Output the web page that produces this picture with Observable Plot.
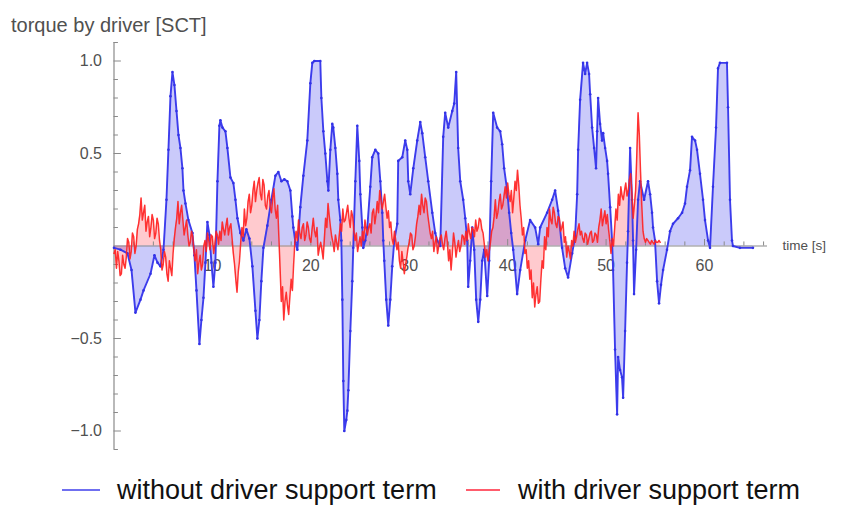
<!DOCTYPE html>
<html>
<head>
<meta charset="utf-8">
<script src="https://cdn.jsdelivr.net/npm/d3@7"></script>
<script src="https://cdn.jsdelivr.net/npm/@observablehq/plot@0.6"></script>
<style>
  body { margin: 0; background: #fff; font-family: "Liberation Sans", Arial, sans-serif; }
  #wrap { position: relative; width: 853px; height: 508px; overflow: hidden; }
  #chart { position: absolute; left: 0; top: 0; }
  .lg { position: absolute; top: 474px; height: 32px; line-height: 32px; font-size: 27px; color: #111; white-space: nowrap; }
  .sw { position: absolute; top: 489px; height: 2px; }
</style>
</head>
<body>
<div id="wrap">
  <div id="chart"></div>
  <div class="sw" style="left:62px;width:38px;background:#6f6ff0"></div>
  <div class="lg" style="left:117px">without driver support term</div>
  <div class="sw" style="left:466px;width:34px;background:#ff5c6c"></div>
  <div class="lg" style="left:518px">with driver support term</div>
</div>
<script>
// Driver torque without the support term: [time s, torque]
const withoutSupport = [
  [0,-0.01],[0.66,-0.02],[1.37,-0.04],[1.78,-0.13],[2.18,-0.36],[2.69,-0.29],[3.0,-0.24],[3.71,-0.15],
  [4.11,-0.05],[4.42,-0.09],[4.72,-0.11],[5.03,-0.02],[5.33,0.25],[5.53,0.52],[5.74,0.81],[5.94,0.94],
  [6.14,0.87],[6.35,0.73],[6.55,0.60],[6.75,0.53],[6.95,0.42],[7.06,0.30],[7.26,0.23],[7.56,0.14],
  [7.97,0.07],[8.17,-0.05],[8.38,-0.24],[8.68,-0.53],[8.88,-0.40],[9.09,-0.28],[9.29,-0.09],[9.49,0.13],
  [9.70,0.06],[9.90,-0.09],[10.10,-0.22],[10.30,-0.09],[10.51,0.35],[10.71,0.65],[10.81,0.68],[11.02,0.64],
  [11.32,0.62],[11.52,0.53],[11.83,0.37],[12.13,0.34],[12.34,0.25],[12.54,0.15],[12.84,0.07],[13.15,0.03],
  [13.45,0.09],[13.76,0.04],[14.06,-0.11],[14.37,-0.35],[14.57,-0.50],[14.77,-0.40],[14.97,-0.19],[15.18,-0.01],
  [15.58,0.11],[15.99,0.25],[16.40,0.38],[16.70,0.40],[17.01,0.35],[17.31,0.36],[17.61,0.35],[17.92,0.30],
  [18.12,0.16],[18.22,0.10],[18.43,0.02],[18.63,-0.02],[18.93,0.21],[19.24,0.38],[19.64,0.57],[19.95,0.88],
  [20.15,0.99],[20.36,1.0],[20.96,1.0],[21.07,0.80],[21.27,0.62],[21.47,0.50],[21.68,0.35],[21.78,0.30],
  [21.98,0.52],[22.18,0.66],[22.28,0.64],[22.49,0.53],[22.69,0.39],[22.79,0.25],[23.0,0.14],[23.10,0.03],
  [23.20,-0.29],[23.30,-0.73],[23.40,-1.0],[23.60,-0.94],[23.71,-0.89],[23.81,-0.78],[24.01,-0.46],[24.21,-0.19],
  [24.31,-0.01],[24.52,0.35],[24.72,0.65],[24.92,0.46],[25.03,0.28],[25.23,0.10],[25.33,-0.01],[25.53,0.03],
  [25.74,0.10],[26.04,0.32],[26.24,0.48],[26.55,0.52],[26.85,0.50],[27.06,0.35],[27.26,0.18],[27.36,0.03],
  [27.46,-0.08],[27.66,-0.29],[27.87,-0.43],[28.07,-0.29],[28.27,-0.11],[28.48,0.03],[28.78,0.12],[28.88,0.46],
  [29.29,0.48],[29.59,0.57],[29.80,0.52],[29.90,0.35],[30.10,0.28],[30.41,0.42],[30.81,0.57],[31.12,0.67],
  [31.32,0.61],[31.62,0.48],[31.93,0.35],[32.34,0.18],[32.64,0.07],[32.84,0.03],[33.15,0.0],[33.45,0.59],
  [33.65,0.72],[33.96,0.64],[34.37,0.73],[34.57,0.77],[34.77,0.94],[34.97,0.53],[35.18,0.35],[35.48,0.25],
  [35.69,0.15],[35.89,0.03],[35.99,-0.22],[36.19,-0.08],[36.40,0.10],[36.60,-0.02],[36.80,-0.29],[37.01,-0.41],
  [37.21,-0.29],[37.41,-0.08],[37.61,-0.02],[37.92,-0.27],[38.12,-0.08],[38.32,0.35],[38.53,0.72],[38.93,0.64],
  [39.24,0.62],[39.44,0.55],[39.64,0.42],[39.95,0.30],[40.15,0.18],[40.36,0.07],[40.56,-0.02],[40.76,-0.13],
  [40.96,-0.26],[41.27,-0.13],[41.78,0.03],[42.28,0.14],[42.79,0.10],[43.10,0.01],[43.30,0.10],[44.01,0.18],
  [44.52,0.25],[44.82,0.30],[45.13,0.19],[45.53,-0.01],[45.84,-0.12],[46.14,-0.17],[46.55,-0.04],[46.85,0.05],
  [47.06,0.28],[47.16,0.52],[47.36,0.79],[47.66,0.99],[47.87,0.93],[48.07,0.99],[48.27,0.93],[48.38,0.82],
  [48.58,0.64],[48.78,0.53],[48.98,0.42],[49.09,0.62],[49.19,0.80],[49.39,0.66],[49.59,0.57],[49.70,0.61],
  [49.90,0.53],[50.10,0.46],[50.20,0.39],[50.41,0.21],[50.61,0.03],[50.71,-0.13],[50.91,-0.56],[51.12,-0.91],
  [51.22,-0.60],[51.42,-0.67],[51.62,-0.71],[51.73,-0.82],[51.93,-0.46],[52.13,-0.09],[52.23,0.08],[52.44,0.53],
  [52.64,0.25],[52.74,0.03],[52.84,-0.26],[53.05,-0.02],[53.25,0.25],[53.45,0.35],[53.86,0.25],[54.26,0.35],
  [54.47,0.28],[54.67,0.18],[54.77,0.10],[54.97,0.03],[55.18,-0.19],[55.38,-0.31],[55.58,-0.21],[55.79,-0.13],
  [56.19,-0.02],[56.50,0.08],[56.80,0.12],[57.31,0.15],[57.72,0.18],[58.02,0.23],[58.22,0.32],[58.53,0.41],
  [58.73,0.59],[59.04,0.57],[59.24,0.52],[59.54,0.39],[59.85,0.25],[60.05,0.14],[60.36,0.03],[60.56,-0.01],
  [60.86,0.32],[61.17,0.64],[61.37,0.96],[61.57,0.99],[62.28,0.99],[62.39,0.75],[62.59,0.25],[62.79,0.03],
  [62.89,0.0],[63.60,-0.01],[64.92,-0.01]
];

// Driver torque with the support term, sampled every 0.125 s from t = 0 (one row = 2 s)
const supportStep = 0.125;
const withSupport = [
  -0.04,-0.02,-0.12,-0.03,-0.08,-0.16,-0.15,-0.05,-0.10,-0.12,-0.06, 0.04, 0.02,-0.07,-0.03, 0.07,
   0.05,-0.04, 0.00, 0.09, 0.12, 0.17, 0.26, 0.14, 0.18, 0.22, 0.08, 0.13, 0.16, 0.05, 0.10, 0.17,
   0.14, 0.04, 0.07, 0.15, 0.12, 0.03,-0.02,-0.13,-0.10,-0.03,-0.06,-0.15,-0.19,-0.08,-0.12,-0.16,
  -0.04, 0.04, 0.10, 0.15, 0.24, 0.12, 0.18, 0.22, 0.14, 0.06, 0.10, 0.14, 0.06, 0.00, 0.02, 0.08,
   0.05,-0.03,-0.08,-0.02,-0.15,-0.09,-0.05,-0.13,-0.10, 0.00, 0.03,-0.03, 0.07, 0.03,-0.02, 0.06,
   0.05,-0.04, 0.01, 0.08, 0.06, 0.01, 0.08, 0.03, 0.13, 0.09, 0.06, 0.11, 0.15, 0.06, 0.10, 0.12,
   0.04,-0.04,-0.10,-0.18,-0.25,-0.14,-0.08, 0.02, 0.10, 0.05, 0.20, 0.11, 0.15, 0.24, 0.28, 0.18,
   0.22, 0.30, 0.35, 0.24, 0.30, 0.34, 0.37, 0.28, 0.25, 0.36, 0.33, 0.22, 0.20, 0.27, 0.30, 0.21,
   0.18, 0.26, 0.31, 0.20, 0.15, 0.22, 0.05,-0.12,-0.30,-0.22,-0.40,-0.30,-0.25,-0.32,-0.37,-0.27,
  -0.18,-0.24,-0.10, 0.02, 0.08, 0.03, 0.14, 0.07, 0.04, 0.10, 0.12, 0.03, 0.06, 0.13, 0.10, 0.04,
   0.02, 0.09, 0.15, 0.08, 0.05, 0.10,-0.05,-0.01, 0.02,-0.02,-0.07, 0.04, 0.15, 0.10, 0.23, 0.16,
   0.10, 0.05, 0.02,-0.03, 0.06, 0.02,-0.02, 0.05, 0.12, 0.08, 0.20, 0.13, 0.14, 0.18, 0.22, 0.15,
   0.10, 0.19, 0.16, 0.08, 0.03, 0.07,-0.03, 0.01, 0.05, 0.00, 0.08, 0.03, 0.14, 0.09, 0.06, 0.10,
   0.12, 0.07, 0.18, 0.20, 0.12, 0.17, 0.24, 0.18, 0.30, 0.25, 0.20, 0.24, 0.28, 0.21, 0.15, 0.19,
   0.10, 0.13, 0.04, 0.01, 0.08, 0.03,-0.02, 0.02,-0.08,-0.12,-0.03,-0.09,-0.15,-0.10,-0.06,-0.01,
   0.02, 0.07, 0.06,-0.02, 0.00, 0.05, 0.12, 0.16, 0.22, 0.17, 0.28, 0.22, 0.18, 0.26, 0.24, 0.17,
   0.12, 0.07, 0.04, 0.08,-0.03, 0.02, 0.05,-0.04, 0.00, 0.04, 0.06, 0.01,-0.02, 0.04, 0.08, 0.02,
  -0.08,-0.02,-0.13,-0.04, 0.07, 0.02,-0.06,-0.01, 0.03,-0.03, 0.00, 0.06, 0.05, 0.01, 0.08, 0.03,
   0.12, 0.07, 0.04, 0.10, 0.09, 0.05, 0.14, 0.08, 0.10, 0.15, 0.14, 0.09, 0.07, 0.01,-0.06,-0.02,
  -0.08,-0.03, 0.02, 0.08, 0.10, 0.16, 0.25, 0.15, 0.18, 0.24, 0.28, 0.20, 0.22, 0.27, 0.32, 0.26,
   0.34, 0.28, 0.24, 0.30, 0.18, 0.26, 0.35, 0.30, 0.41, 0.33, 0.22, 0.15, 0.06, 0.10,-0.04,-0.02,
  -0.12,-0.08,-0.18,-0.13,-0.28,-0.20,-0.33,-0.26,-0.22,-0.31,-0.30,-0.18,-0.08,-0.12, 0.05,-0.02,
   0.10, 0.05, 0.20, 0.14, 0.12, 0.21, 0.18, 0.12, 0.10, 0.16, 0.15, 0.08, 0.10, 0.13, 0.02, 0.05,
  -0.06, 0.00,-0.03,-0.07, 0.03, 0.00, 0.08, 0.02, 0.05, 0.09, 0.12, 0.06, 0.08, 0.04, 0.02, 0.07,
   0.06, 0.01, 0.04, 0.07, 0.08, 0.02, 0.03, 0.07, 0.06, 0.02, 0.10, 0.14, 0.20, 0.11, 0.15, 0.19,
   0.12, 0.17, 0.09, 0.03,-0.04, 0.04, 0.00, 0.10, 0.20, 0.14, 0.28, 0.22, 0.32, 0.27, 0.25, 0.30,
   0.34, 0.27, 0.30, 0.36, 0.39, 0.28, 0.15, 0.22, 0.30, 0.50, 0.72, 0.60, 0.40, 0.22, 0.08, 0.04,
   0.02, 0.04, 0.03, 0.02, 0.01, 0.03, 0.02, 0.01, 0.03, 0.02, 0.02, 0.03, 0.02
];

// Axis ticks and labels
const xMajor = [10, 20, 30, 40, 50, 60];
const xMinor = [2, 4, 6, 8, 12, 14, 16, 18, 22, 24, 26, 28, 32, 34, 36, 38, 42, 44, 46, 48, 52, 54, 56, 58, 62, 64, 66];
const yMajor = [-1, -0.5, 0.5, 1];
const yMinor = [-1.1, -0.9, -0.8, -0.7, -0.6, -0.4, -0.3, -0.2, -0.1, 0.1, 0.2, 0.3, 0.4, 0.6, 0.7, 0.8, 0.9, 1.1];
const yLabel = "torque by driver [SCT]";
const xLabel = "time [s]";

const tMax = 66.4;
const blue = withoutSupport.map(([t, v]) => ({t, v}));
const red = withSupport.map((v, i) => ({t: i * supportStep, v}));

const axisGray = "#8a8a8a";
const labelGray = "#505050";
const fmt = d => (d < 0 ? "\u2212" : "") + Math.abs(d).toFixed(1);

const chart = Plot.plot({
  width: 853,
  height: 460,
  marginLeft: 113.5,
  marginRight: 86,
  marginTop: 42,
  marginBottom: 11,
  x: {domain: [0, tMax], axis: null},
  y: {domain: [-1.1, 1.1], axis: null},
  style: {fontFamily: "'Liberation Sans', Arial, sans-serif", background: "#fff"},
  marks: [
    // tick labels sit beneath the filled curves
    Plot.text(yMajor, {x: 0, y: d => d, text: fmt, textAnchor: "end", dx: -12, fontSize: 16, fill: labelGray}),
    Plot.text(xMajor, {x: d => d, y: 0, text: d => String(d), dy: 20, fontSize: 16, fill: labelGray}),
    Plot.text([xLabel], {x: tMax, y: 0, text: d => d, textAnchor: "start", dx: 15, fontSize: 13.5, fill: labelGray}),
    Plot.text([yLabel], {frameAnchor: "top-left", text: d => d, textAnchor: "start", dx: -103, dy: -25, fontSize: 20, fill: labelGray}),

    // filled areas between each curve and zero
    Plot.areaY(blue, {x: "t", y: "v", fill: "rgb(60,60,235)", fillOpacity: 0.27}),
    Plot.areaY(red, {x: "t", y: "v", fill: "rgb(255,45,60)", fillOpacity: 0.25}),

    // axes crossing at the origin
    Plot.ruleX([0], {y1: -1.1, y2: 1.1, stroke: axisGray, strokeWidth: 1.2}),
    Plot.ruleY([0], {x1: 0, x2: tMax, stroke: axisGray, strokeWidth: 1.2}),
    Plot.ruleY(yMajor, {y: d => d, x1: 0, x2: 0.75, stroke: axisGray}),
    Plot.ruleY(yMinor, {y: d => d, x1: 0, x2: 0.45, stroke: axisGray}),
    Plot.ruleX(xMajor, {x: d => d, y1: 0, y2: 0.035, stroke: axisGray}),
    Plot.ruleX(xMinor, {x: d => d, y1: 0, y2: 0.022, stroke: axisGray}),

    // curves
    Plot.line(blue, {x: "t", y: "v", stroke: "#3c3cec", strokeWidth: 1.9, strokeLinejoin: "round"}),
    Plot.dot(blue, {x: "t", y: "v", r: 1.3, fill: "#3232e6", stroke: "none"}),
    Plot.line(red, {x: "t", y: "v", stroke: "#ff2222", strokeWidth: 1.5, strokeOpacity: 0.92, strokeLinejoin: "round"})
  ]
});
document.getElementById("chart").append(chart);
</script>
</body>
</html>
